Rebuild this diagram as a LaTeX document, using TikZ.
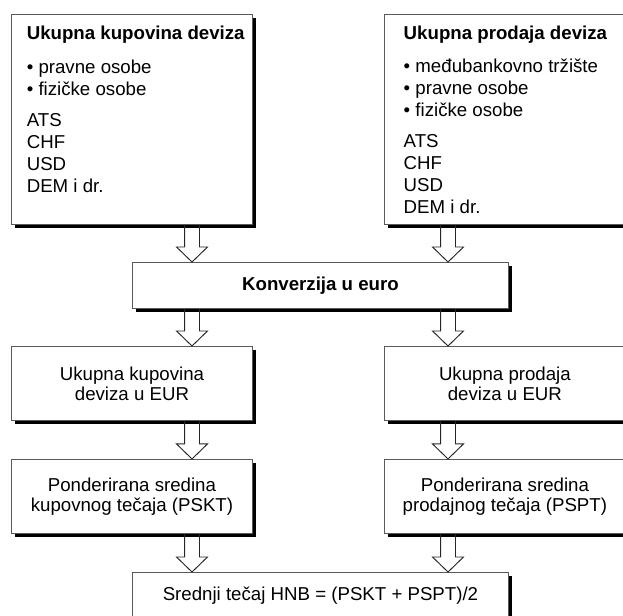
\documentclass[tikz,border=0pt]{standalone}
\usepackage{fontspec}
\setmainfont{Liberation Sans}
\usetikzlibrary{positioning,shadows,calc}

\definecolor{framegray}{gray}{0.35}

\tikzset{
  shadowbox/.style={draw=framegray, line width=0.7pt, fill=white, inner sep=0pt,
    drop shadow={shadow xshift=3pt, shadow yshift=-3pt, opacity=1, fill=black}},
  topbox/.style={shadowbox, anchor=north west, font=\fontsize{14pt}{16.5pt}\selectfont},
  midbox/.style={shadowbox, anchor=north west, minimum width=180.75pt, minimum height=55.5pt,
    align=center, font=\fontsize{14pt}{15pt}\selectfont},
  widebox/.style={shadowbox, anchor=north west, minimum width=282pt, minimum height=34.5pt,
    font=\fontsize{14pt}{15pt}\selectfont},
  hollowarr/.style={draw=black!85, line width=0.7pt}
}

\newcommand{\hollowarrow}[2]{%
  \draw[hollowarr] let \p1=(#1), \p2=(#2) in
    (\x1-5.6pt,\y1) -- (\x1-5.6pt,\y2+11.25pt) -- (\x1-11.6pt,\y2+11.25pt)
    -- (\x1,\y2) -- (\x1+11.6pt,\y2+11.25pt) -- (\x1+5.6pt,\y2+11.25pt)
    -- (\x1+5.6pt,\y1);}

\begin{document}
\begin{tikzpicture}[x=0.75pt, y=-0.75pt]
\useasboundingbox (0,0) rectangle (623,615);

% upper boxes
\node (kup) [topbox] at (11,14)
{\parbox[t][157.5pt][t]{180.75pt}{\leftskip=11.5pt
\rule{0pt}{18.75pt}\textbf{Ukupna kupovina deviza}\\[9pt]
\textbullet\ pravne osobe\\
\textbullet\ fizičke osobe\\[6.5pt]
ATS\\ CHF\\ USD\\ DEM i dr.}};

\node (prod) [topbox, right=98.25pt of kup]
{\parbox[t][157.5pt][t]{180.75pt}{\leftskip=14.5pt
\rule{0pt}{18.75pt}\textbf{Ukupna prodaja deviza}\\[8pt]
\textbullet\ međubankovno tržište\\
\textbullet\ pravne osobe\\
\textbullet\ fizičke osobe\\[7pt]
ATS\\ CHF\\ USD\\ DEM i dr.}};

\node (konv) [widebox] at (132,262) {\textbf{Konverzija u euro}};

% lower boxes
\node (kupeur) [midbox] at (11,346) {Ukupna kupovina\\deviza u EUR};
\node (prodeur) [midbox, right=98.25pt of kupeur] {Ukupna prodaja\\deviza u EUR};
\node (pskt) [midbox, below=28.5pt of kupeur] {Ponderirana sredina\\kupovnog tečaja (PSKT)};
\node (pspt) [midbox, below=28.5pt of prodeur] {Ponderirana sredina\\prodajnog tečaja (PSPT)};

\node (hnb) [widebox] at (132,572) {Srednji tečaj HNB = (PSKT + PSPT)/2};

\coordinate (la) at (192,0);
\coordinate (ra) at (448,0);

\foreach \a/\b/\c in {kup/konv/la, prod/konv/ra, konv/kupeur/la, konv/prodeur/ra,
  kupeur/pskt/la, prodeur/pspt/ra, pskt/hnb/la, pspt/hnb/ra}
  \hollowarrow{\a.south -| \c}{\b.north -| \c};

\end{tikzpicture}
\end{document}
